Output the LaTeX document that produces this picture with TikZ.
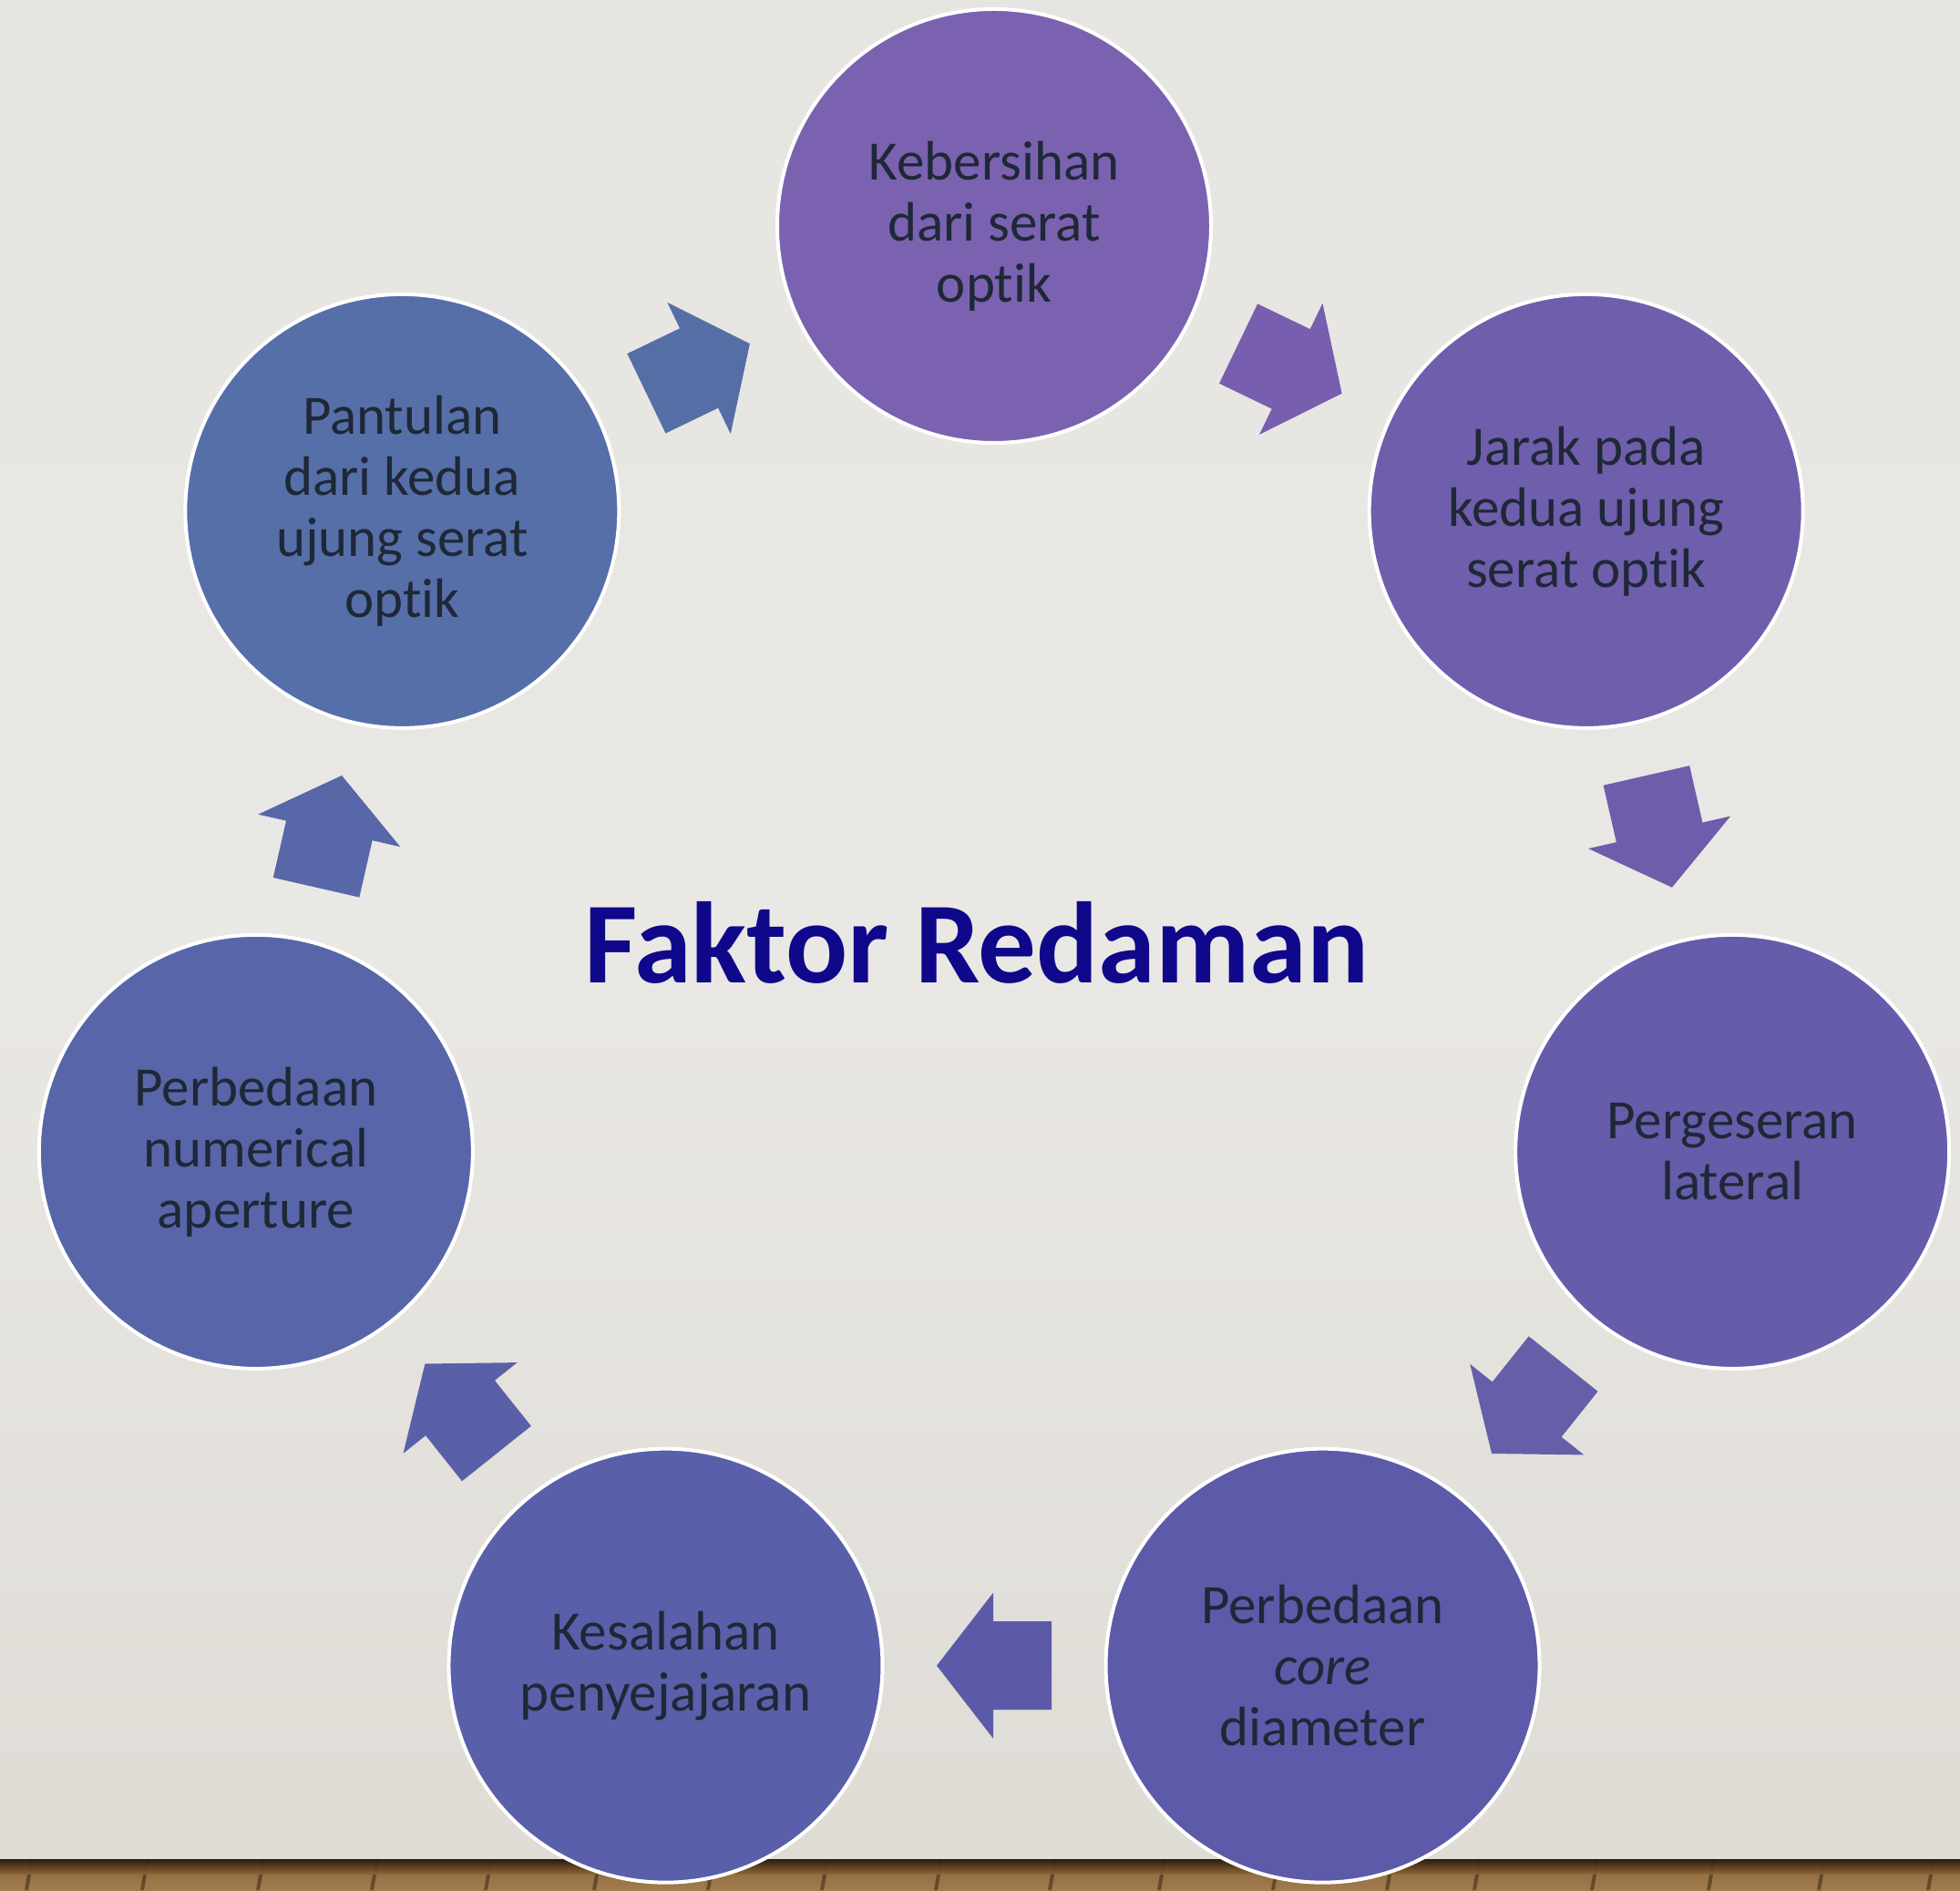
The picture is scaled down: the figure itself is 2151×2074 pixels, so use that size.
\documentclass[tikz,border=0pt]{standalone}
\usepackage{fontspec}
\setmainfont{Carlito}[Ligatures={NoCommon,NoContextual}]
\usetikzlibrary{calc}
\definecolor{bgtop}{RGB}{231,229,225}
\definecolor{bgmid}{RGB}{234,232,228}
\definecolor{bgbot}{RGB}{223,220,214}
\definecolor{txt}{RGB}{30,40,54}
\definecolor{ttl}{RGB}{16,8,138}
\definecolor{cA}{RGB}{122,98,176}
\definecolor{cB}{RGB}{111,94,172}
\definecolor{cC}{RGB}{101,93,170}
\definecolor{cD}{RGB}{93,90,170}
\definecolor{cE}{RGB}{90,95,170}
\definecolor{cF}{RGB}{88,101,168}
\definecolor{cG}{RGB}{86,111,168}
\definecolor{aA}{RGB}{119,94,174}
\definecolor{aB}{RGB}{109,93,171}
\definecolor{aC}{RGB}{101,94,169}
\definecolor{aD}{RGB}{92,90,168}
\definecolor{aE}{RGB}{90,96,168}
\definecolor{aF}{RGB}{87,103,168}
\definecolor{aG}{RGB}{86,110,166}
\definecolor{wood}{RGB}{140,100,55}
\definecolor{woodlt}{RGB}{160,124,78}
\definecolor{wooddk}{RGB}{35,20,8}
\newcommand\blockarr[4]{%
  \fill[#4, shift={($(#1)!0.5!(#2)$)}, rotate=#3]
    (-63,-48.5) -- (1,-48.5) -- (1,-80) -- (63,0) -- (1,80) -- (1,48.5) -- (-63,48.5) -- cycle;}
\tikzset{
  bubble/.style={circle, draw=white, line width=4pt, minimum size=476pt, inner sep=0pt,
    align=center, text=txt, font=\fontsize{61}{67}\selectfont},
  titletext/.style={text=ttl, font=\fontsize{127}{127}\selectfont\bfseries, inner sep=0pt}
}
\begin{document}
\begin{tikzpicture}[x=1pt,y=1pt]
\useasboundingbox (0,0) rectangle (2151,2074);
% background
\shade[top color=bgtop, bottom color=bgbot, middle color=bgmid] (0,30) rectangle (2151,2074);
% wood floor strip
\shade[top color=wood, bottom color=woodlt] (0,0) rectangle (2151,34);
\foreach \x in {27,154,281,406,531,650,775,900,1025,1150,1270,1395,1520,1616,1745,1873,1994,2114}
  \fill[wooddk, opacity=0.45] (\x,0) -- (\x+4,0) -- (\x+10,34) -- (\x+6,34) -- cycle;
\shade[top color=wooddk, bottom color=wood, opacity=0.9] (0,18) rectangle (2151,34);
% layout centre
\coordinate (O) at (1091,995);
% circles
\node[bubble, fill=cA] (c1) at ($(O)+(90:831)$) {Kebersihan\\dari serat\\optik};
\node[bubble, fill=cB] (c2) at ($(O)+(38.571:831)$) {Jarak pada\\kedua ujung\\serat optik};
\node[bubble, fill=cC] (c3) at ($(O)+(-12.857:831)$) {Pergeseran\\lateral};
\node[bubble, fill=cD] (c4) at ($(O)+(-64.286:831)$) {Perbedaan\\\textit{core}\\diameter};
\node[bubble, fill=cE] (c5) at ($(O)+(-115.714:831)$) {Kesalahan\\penyejajaran};
\node[bubble, fill=cF] (c6) at ($(O)+(-167.143:831)$) {Perbedaan\\numerical\\aperture};
\node[bubble, fill=cG] (c7) at ($(O)+(-218.571:831)$) {Pantulan\\dari kedua\\ujung serat\\optik};
% arrows
\blockarr{c1}{c2}{-25.714}{aA}
\blockarr{c2}{c3}{-77.143}{aB}
\blockarr{c3}{c4}{-128.571}{aC}
\blockarr{c4}{c5}{-180}{aD}
\blockarr{c5}{c6}{-231.429}{aE}
\blockarr{c6}{c7}{-282.857}{aF}
\blockarr{c7}{c1}{-334.286}{aG}
% title
\node[titletext, anchor=base] (title) at (1072,995) {Faktor Redaman};
\end{tikzpicture}
\end{document}
